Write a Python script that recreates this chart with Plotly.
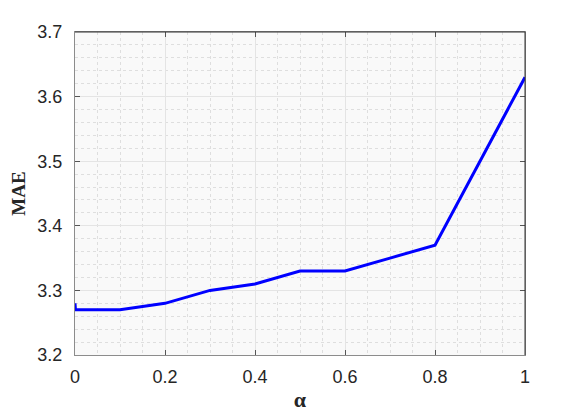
import plotly.graph_objects as go

alpha = [0, 0.001, 0.1, 0.2, 0.3, 0.4, 0.5, 0.6, 0.7, 0.8, 1.0]
mae = [3.28, 3.27, 3.27, 3.28, 3.30, 3.31, 3.33, 3.33, 3.35, 3.37, 3.63]

x_ticks = [0, 0.2, 0.4, 0.6, 0.8, 1]
y_ticks = [3.2, 3.3, 3.4, 3.5, 3.6, 3.7]

fig = go.Figure()
fig.add_trace(go.Scatter(
    x=alpha, y=mae, mode="lines",
    line=dict(color="#0000ff", width=3),
    showlegend=False
))

axis_common = dict(
    showline=True, linecolor="#8c8c8c", linewidth=1,
    mirror="ticks", ticks="inside", ticklen=5, tickcolor="#555",
    showgrid=True, gridcolor="#e4e4e4", gridwidth=1,
    zeroline=False, automargin=False,
    tickfont=dict(family="Liberation Sans, Arial", size=18, color="#262626"),
)

fig.update_xaxes(
    range=[0, 1], tickvals=x_ticks, ticktext=["0", "0.2", "0.4", "0.6", "0.8", "1"],
    minor=dict(dtick=0.05, showgrid=True, gridcolor="#dedede", griddash="dot", ticks=""),
    ticklabelstandoff=5,
    title=dict(text="<b>α</b>", font=dict(family="Liberation Serif", size=22, color="#262626"), standoff=6),
    **axis_common
)
fig.update_yaxes(
    range=[3.2, 3.7], tickvals=y_ticks, ticktext=["3.2", "3.3", "3.4", "3.5", "3.6", "3.7"],
    minor=dict(dtick=0.02, showgrid=True, gridcolor="#dedede", griddash="dot", ticks=""),
    ticklabelstandoff=8,
    title=dict(text="<b>MAE</b>", font=dict(family="Liberation Serif", size=19, color="#262626"), standoff=12),
    **axis_common
)

# darker top and right border like the original
fig.add_shape(type="line", xref="paper", yref="paper", x0=0, x1=1, y0=1, y1=1,
              line=dict(color="#333", width=1))
fig.add_shape(type="line", xref="paper", yref="paper", x0=1, x1=1, y0=0, y1=1,
              line=dict(color="#333", width=1))

fig.update_layout(
    width=573, height=405,
    margin=dict(l=67, r=56, t=24, b=58),
    plot_bgcolor="#f9f9f9", paper_bgcolor="white",
)

fig.write_html("out.html")
